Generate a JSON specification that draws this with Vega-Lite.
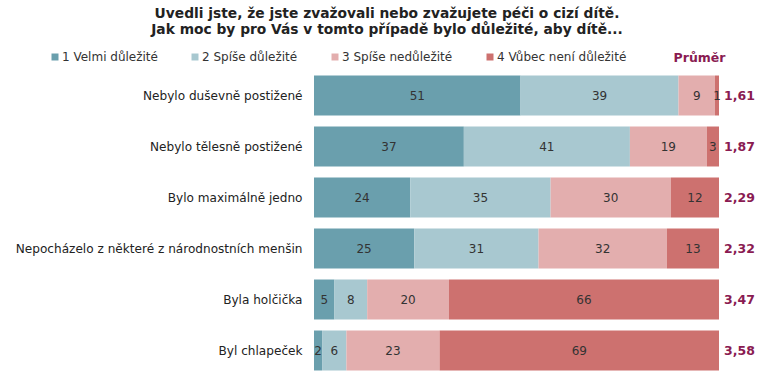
{
  "$schema": "https://vega.github.io/schema/vega-lite/v6.json",
  "width": 405,
  "height": 306,
  "autosize": {"type": "none"},
  "padding": {"left": 314, "top": 70, "right": 45, "bottom": 0},
  "title": {
    "text": ["Uvedli jste, že jste zvažovali nebo zvažujete péči o cizí dítě.", "Jak moc by pro Vás v tomto případě bylo důležité, aby dítě..."],
    "anchor": "start",
    "frame": "group",
    "dx": 73,
    "offset": 14,
    "font": "DejaVu Sans",
    "fontSize": 13.8,
    "fontWeight": "bold",
    "color": "#222222",
    "lineHeight": 16,
    "align": "center"
  },
  "datasets": {
    "bars": [
      {"item": "Nebylo duševně postižené", "cat": "1 Velmi důležité", "o": 1, "v": 51},
      {"item": "Nebylo duševně postižené", "cat": "2 Spíše důležité", "o": 2, "v": 39},
      {"item": "Nebylo duševně postižené", "cat": "3 Spíše nedůležité", "o": 3, "v": 9},
      {"item": "Nebylo duševně postižené", "cat": "4 Vůbec není důležité", "o": 4, "v": 1},
      {"item": "Nebylo tělesně postižené", "cat": "1 Velmi důležité", "o": 1, "v": 37},
      {"item": "Nebylo tělesně postižené", "cat": "2 Spíše důležité", "o": 2, "v": 41},
      {"item": "Nebylo tělesně postižené", "cat": "3 Spíše nedůležité", "o": 3, "v": 19},
      {"item": "Nebylo tělesně postižené", "cat": "4 Vůbec není důležité", "o": 4, "v": 3},
      {"item": "Bylo maximálně jedno", "cat": "1 Velmi důležité", "o": 1, "v": 24},
      {"item": "Bylo maximálně jedno", "cat": "2 Spíše důležité", "o": 2, "v": 35},
      {"item": "Bylo maximálně jedno", "cat": "3 Spíše nedůležité", "o": 3, "v": 30},
      {"item": "Bylo maximálně jedno", "cat": "4 Vůbec není důležité", "o": 4, "v": 12},
      {"item": "Nepocházelo z některé z národnostních menšin", "cat": "1 Velmi důležité", "o": 1, "v": 25},
      {"item": "Nepocházelo z některé z národnostních menšin", "cat": "2 Spíše důležité", "o": 2, "v": 31},
      {"item": "Nepocházelo z některé z národnostních menšin", "cat": "3 Spíše nedůležité", "o": 3, "v": 32},
      {"item": "Nepocházelo z některé z národnostních menšin", "cat": "4 Vůbec není důležité", "o": 4, "v": 13},
      {"item": "Byla holčička", "cat": "1 Velmi důležité", "o": 1, "v": 5},
      {"item": "Byla holčička", "cat": "2 Spíše důležité", "o": 2, "v": 8},
      {"item": "Byla holčička", "cat": "3 Spíše nedůležité", "o": 3, "v": 20},
      {"item": "Byla holčička", "cat": "4 Vůbec není důležité", "o": 4, "v": 66},
      {"item": "Byl chlapeček", "cat": "1 Velmi důležité", "o": 1, "v": 2},
      {"item": "Byl chlapeček", "cat": "2 Spíše důležité", "o": 2, "v": 6},
      {"item": "Byl chlapeček", "cat": "3 Spíše nedůležité", "o": 3, "v": 23},
      {"item": "Byl chlapeček", "cat": "4 Vůbec není důležité", "o": 4, "v": 69}
    ],
    "avg": [
      {"item": "Nebylo duševně postižené", "avg": "1,61"},
      {"item": "Nebylo tělesně postižené", "avg": "1,87"},
      {"item": "Bylo maximálně jedno", "avg": "2,29"},
      {"item": "Nepocházelo z některé z národnostních menšin", "avg": "2,32"},
      {"item": "Byla holčička", "avg": "3,47"},
      {"item": "Byl chlapeček", "avg": "3,58"}
    ]
  },
  "encoding": {
    "y": {
      "field": "item",
      "type": "nominal",
      "sort": null,
      "scale": {"paddingInner": 0.216, "paddingOuter": 0.108},
      "axis": {
        "title": null,
        "ticks": false,
        "domain": false,
        "labelPadding": 12,
        "labelFont": "DejaVu Sans",
        "labelFontSize": 12.1,
        "labelColor": "#222222",
        "labelLimit": 400
      }
    }
  },
  "layer": [
    {
      "data": {"name": "bars"},
      "mark": {"type": "bar"},
      "encoding": {
        "x": {
          "field": "v",
          "type": "quantitative",
          "stack": "normalize",
          "axis": {
            "orient": "top",
            "title": "Průměr",
            "labels": false,
            "ticks": false,
            "domain": false,
            "grid": false,
            "titleAnchor": "start",
            "titleAlign": "right",
            "titleX": 411,
            "titleY": -13,
            "titleBaseline": "middle",
            "titleFont": "DejaVu Sans",
            "titleFontSize": 12.5,
            "titleFontWeight": "bold",
            "titleColor": "#8a1b52"
          }
        },
        "color": {
          "field": "cat",
          "type": "nominal",
          "scale": {
            "domain": ["1 Velmi důležité", "2 Spíše důležité", "3 Spíše nedůležité", "4 Vůbec není důležité"],
            "range": ["#6a9fad", "#a8c8d0", "#e3aeae", "#cd716f"]
          },
          "legend": {
            "title": null,
            "orient": "none",
            "direction": "horizontal",
            "legendX": -265,
            "legendY": -19,
            "symbolType": "square",
            "symbolSize": 49,
            "symbolStrokeWidth": 0,
            "labelFont": "DejaVu Sans",
            "labelFontSize": 12,
            "labelColor": "#333333",
            "labelOffset": 1,
            "columnPadding": 31,
            "labelLimit": 300
          }
        },
        "order": {"field": "o", "type": "quantitative"}
      }
    },
    {
      "data": {"name": "bars"},
      "mark": {"type": "text", "font": "DejaVu Sans", "fontSize": 12, "color": "#333333"},
      "encoding": {
        "x": {"field": "v", "type": "quantitative", "stack": "normalize", "bandPosition": 0.5},
        "text": {"field": "v", "type": "quantitative"},
        "order": {"field": "o", "type": "quantitative"},
        "detail": {"field": "cat"}
      }
    },
    {
      "data": {"name": "avg"},
      "mark": {"type": "text", "align": "left", "dx": 5, "font": "DejaVu Sans", "fontSize": 12.5, "fontWeight": "bold", "color": "#8a1b52"},
      "encoding": {
        "x": {"datum": 1, "type": "quantitative"},
        "text": {"field": "avg"}
      }
    }
  ],
  "config": {
    "view": {"stroke": null},
    "background": "white"
  }
}
